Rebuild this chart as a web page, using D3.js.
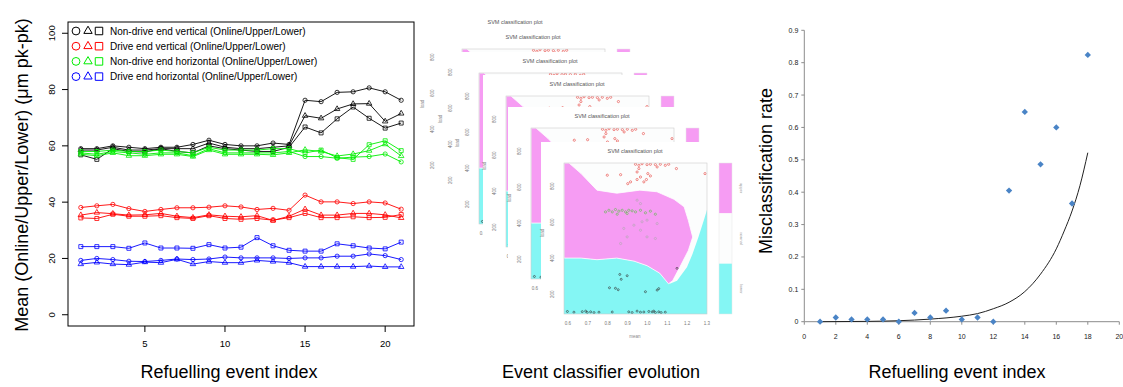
<!DOCTYPE html>
<html>
<head>
<meta charset="utf-8">
<script src="https://cdn.jsdelivr.net/npm/d3@7"></script>
<style>
  body { margin: 0; background: #fff; }
  svg { display: block; font-family: "Liberation Sans", Arial, sans-serif; }
</style>
</head>
<body>
<div id="chart"></div>
<script>
// ---------- left panel: mean vibration per refuelling event ----------
const eventIndex = [1, 2, 3, 4, 5, 6, 7, 8, 9, 10, 11, 12, 13, 14, 15, 16, 17, 18, 19, 20, 21];

const ndeVertOnline = [59, 59, 60, 59.5, 59, 59.5, 59.5, 60.5, 62, 60.5, 60, 60, 61, 60.5, 76.2, 75.7, 79, 79.2, 80.6, 79.2, 76.2];
const ndeVertUpper  = [58.5, 58.5, 59.5, 58.5, 58.5, 59, 59, 59, 61, 59.5, 59, 59, 59.5, 60, 70.7, 69.8, 73.1, 74.9, 75, 68.7, 71.5];
const ndeVertLower  = [56.8, 55.2, 59, 58, 57.8, 59, 58, 57.5, 60, 59, 58.5, 58, 58, 59.5, 66.7, 64.6, 69.6, 73.8, 69.8, 66.3, 68.1];

const deVertOnline = [38.1, 38.7, 39.2, 37.7, 36.7, 37.4, 38, 38, 38.2, 38.7, 38.3, 37.4, 37.8, 37.1, 42.5, 40.1, 40.1, 39.5, 40.1, 39.7, 37.5];
const deVertUpper  = [35.4, 36.3, 35.9, 35.4, 35.5, 36, 35, 34.5, 35.5, 35, 34.8, 35.2, 33.5, 35, 37.5, 35.4, 35.4, 36, 36, 35.5, 34.4];
const deVertLower  = [34.4, 34.2, 35.7, 35, 35, 35.2, 34.5, 34.2, 35.2, 34.2, 33.9, 34.2, 33.6, 34.5, 36, 34.5, 34.5, 34.8, 34.5, 34.6, 35.6];

const ndeHorOnline = [57.5, 57, 58, 57.5, 57, 57.5, 57.5, 56.5, 59, 57.5, 57.5, 57.5, 57.5, 58, 56.2, 56.2, 55.6, 56, 56.2, 57.1, 54.3];
const ndeHorUpper  = [57, 56.5, 57.5, 56.5, 56.5, 57, 57, 56.2, 58.5, 57, 57, 57, 56.8, 57.5, 58.6, 58, 56.4, 57.1, 58.3, 60.6, 56.4];
const ndeHorLower  = [58, 58, 58.5, 58, 58, 58.5, 58, 57.5, 59.5, 58.5, 58.5, 58.5, 59, 59, 57.5, 58.5, 55.8, 55.2, 60.4, 61.8, 58.3];

const deHorOnline = [19.3, 20, 19.6, 19, 18.9, 19.3, 19.8, 19.6, 19.8, 20.5, 20.2, 20.2, 20.2, 20, 20.2, 20.2, 20.8, 20.8, 21.6, 21, 19.6];
const deHorUpper  = [18, 18.6, 18, 17.8, 18.7, 18.5, 19.7, 18, 18.9, 18.5, 18.5, 19.3, 18.9, 18.5, 17.1, 17.1, 17.1, 17.1, 17.3, 17, 17];
const deHorLower  = [24.2, 24.2, 24.2, 23.6, 25.5, 23.7, 23.7, 23.6, 24.9, 23.7, 24, 27.4, 24.5, 22.9, 22.6, 22.6, 25.2, 24.5, 23.7, 23.4, 25.8];

const legendLabels = [
  'Non-drive end vertical (Online/Upper/Lower)',
  'Drive end vertical (Online/Upper/Lower)',
  'Non-drive end horizontal (Online/Upper/Lower)',
  'Drive end horizontal (Online/Upper/Lower)'
];
const groupColors = ['#000000', '#ff0000', '#00ee00', '#0000ff'];
const leftXTicks = [5, 10, 15, 20];
const leftYTicks = [0, 20, 40, 60, 80, 100];

// ---------- middle panel: SVM classification plot ----------
const svmXTicks = [0.6, 0.7, 0.8, 0.9, 1.0, 1.1, 1.2, 1.3];
const svmYTicks = [200, 400, 600, 800];
const svmClasses = ['upper', 'normal', 'lower'];
// boundary between the upper (white) and middle (magenta) class
const upperEdge = [[0.58, 930], [0.605, 930], [0.666, 871], [0.746, 779], [0.846, 762], [0.962, 779], [1.048, 770],
  [1.134, 728], [1.185, 686], [1.206, 611], [1.228, 518], [1.206, 443], [1.163, 350], [1.127, 275], [1.106, 258]];
// boundary between middle (magenta) and lower (cyan) class
const lowerEdge = [[1.106, 258], [1.062, 317], [0.998, 359], [0.933, 384], [0.846, 401], [0.746, 392], [0.666, 401], [0.58, 401]];
// boundary between upper (white) and lower (cyan) on the right
const rightEdge = [[1.3, 930], [1.3, 670], [1.286, 619], [1.257, 518], [1.228, 426], [1.199, 350], [1.149, 275], [1.113, 258]];

const svmUpperPts = [[0.94, 923], [0.957, 917], [0.973, 926], [0.998, 921], [1.015, 923], [1.04, 921], [1.065, 923], [1.09, 917],
  [1.107, 923], [1.146, 899], [1.29, 871], [0.798, 862], [0.865, 865], [0.948, 880], [0.965, 852], [1.002, 871],
  [1.015, 858], [0.995, 838], [0.948, 838], [0.915, 825], [0.901, 815], [0.982, 825], [0.957, 899], [1.049, 908]];
const svmNormalPts = [[0.789, 658], [0.806, 667], [0.823, 658], [0.839, 671], [0.856, 662], [0.873, 667], [0.89, 658],
  [0.906, 667], [0.923, 664], [0.94, 658], [0.965, 667], [0.99, 653], [1.015, 662], [1.04, 645], [0.848, 645], [0.898, 649]];
const svmGreyPts = [[0.948, 723], [0.965, 704], [0.973, 603], [0.998, 612], [0.881, 566], [0.898, 519], [0.865, 482],
  [0.998, 519], [1.04, 510], [1.049, 593], [0.932, 584], [0.965, 556]];
const svmLowerPts = [[1.149, 344], [0.861, 310], [0.898, 303], [0.868, 283], [0.809, 236], [0.839, 233], [0.853, 225],
  [0.99, 214], [1.049, 223], [1.057, 231], [0.597, 104], [0.63, 100], [0.672, 103], [0.689, 106], [0.697, 99],
  [0.714, 102], [0.731, 98], [0.756, 100], [0.823, 101], [0.906, 102], [0.923, 98], [0.948, 106], [0.965, 100],
  [0.982, 101], [1.007, 104], [1.024, 102], [1.032, 106], [1.04, 98], [1.057, 102], [1.069, 98], [1.09, 100]];

// ---------- right panel: misclassification rate ----------
const missEvent = [1, 2, 3, 4, 5, 6, 7, 8, 9, 10, 11, 12, 13, 14, 15, 16, 17, 18];
const missRate = [0, 0.013, 0.007, 0.007, 0.007, 0, 0.027, 0.013, 0.034, 0.007, 0.013, 0, 0.405, 0.648, 0.486, 0.6, 0.365, 0.824];
const trendEvent = [1, 4, 6, 8, 10, 11, 12, 13, 14, 15, 16, 16.5, 17, 17.5, 18];
const trendRate = [0, 0.001, 0.003, 0.008, 0.017, 0.025, 0.04, 0.06, 0.093, 0.147, 0.225, 0.28, 0.342, 0.42, 0.522];
const rightXTicks = [0, 2, 4, 6, 8, 10, 12, 14, 16, 18, 20];
const rightYTicks = [0, 0.1, 0.2, 0.3, 0.4, 0.5, 0.6, 0.7, 0.8, 0.9];

const W = 1123, H = 387;
const svg = d3.select('#chart').append('svg').attr('width', W).attr('height', H);

// ===== left chart =====
function drawLeft() {
  const box = {left: 68, right: 414, top: 22, bottom: 326};
  const x = d3.scaleLinear().domain([0.2, 21.8]).range([box.left, box.right]);
  const y = d3.scaleLinear().domain([-4, 104]).range([box.bottom, box.top]);
  const g = svg.append('g');

  const groups = [
    [ndeVertOnline, ndeVertUpper, ndeVertLower],
    [deVertOnline, deVertUpper, deVertLower],
    [ndeHorOnline, ndeHorUpper, ndeHorLower],
    [deHorOnline, deHorUpper, deHorLower]
  ];
  const shapes = [d3.symbolCircle, d3.symbolTriangle, d3.symbolSquare];
  const sizes = [14, 13, 16];
  const line = d3.line().x((d, i) => x(eventIndex[i])).y(d => y(d));

  groups.forEach((series, gi) => {
    series.forEach((vals, si) => {
      g.append('path').attr('d', line(vals))
        .attr('fill', 'none').attr('stroke', groupColors[gi]).attr('stroke-width', 0.9);
      g.selectAll(null).data(vals).enter().append('path')
        .attr('d', d3.symbol(shapes[si], sizes[si]))
        .attr('transform', (d, i) => `translate(${x(eventIndex[i])},${y(d)})`)
        .attr('fill', 'none').attr('stroke', groupColors[gi]).attr('stroke-width', 0.8);
    });
  });

  g.append('rect').attr('x', box.left).attr('y', box.top)
    .attr('width', box.right - box.left).attr('height', box.bottom - box.top)
    .attr('fill', 'none').attr('stroke', '#000').attr('stroke-width', 1);

  // y axis (R style, rotated labels)
  leftYTicks.forEach(t => {
    g.append('line').attr('x1', box.left - 6).attr('x2', box.left).attr('y1', y(t)).attr('y2', y(t))
      .attr('stroke', '#000');
    g.append('text').attr('transform', `translate(55,${y(t)}) rotate(-90)`)
      .attr('text-anchor', 'middle').attr('font-size', 9.5).text(t);
  });
  leftXTicks.forEach(t => {
    g.append('line').attr('x1', x(t)).attr('x2', x(t)).attr('y1', box.bottom).attr('y2', box.bottom + 6)
      .attr('stroke', '#000');
    g.append('text').attr('x', x(t)).attr('y', 347)
      .attr('text-anchor', 'middle').attr('font-size', 9.5).text(t);
  });

  g.append('text').attr('x', 229).attr('y', 378).attr('text-anchor', 'middle')
    .attr('font-size', 18).text('Refuelling event index');
  g.append('text').attr('transform', 'translate(28,175) rotate(-90)').attr('text-anchor', 'middle')
    .attr('font-size', 18).text('Mean (Online/Upper/Lower) (\u03bcm pk-pk)');

  // legend
  legendLabels.forEach((lab, i) => {
    const ly = 31 + i * 15.2;
    [76, 88, 99].forEach((lx, si) => {
      g.append('path').attr('d', d3.symbol(shapes[si], [48, 30, 56][si]))
        .attr('transform', `translate(${lx},${ly})`)
        .attr('fill', 'none').attr('stroke', groupColors[i]).attr('stroke-width', 1);
    });
    g.append('text').attr('x', 110).attr('y', ly + 3.5).attr('font-size', 10).text(lab);
  });
}

// ===== middle: stacked SVM plots =====
function drawSvmCard(dx, dy) {
  const pl = 564 + dx, pt = 163 + dy, pw = 143, ph = 151;
  const x = d3.scaleLinear().domain([0.58, 1.3]).range([pl, pl + pw]);
  const y = d3.scaleLinear().domain([90, 930]).range([pt + ph, pt]);
  const g = svg.append('g');

  g.append('rect').attr('x', pl - 23).attr('y', pt - 21).attr('width', 210).attr('height', 208)
    .attr('fill', '#fff');

  const clipId = 'clip' + (dx + 200) + '_' + (dy + 200);
  g.append('clipPath').attr('id', clipId).append('rect')
    .attr('x', pl).attr('y', pt).attr('width', pw).attr('height', ph);
  const plot = g.append('g').attr('clip-path', `url(#${clipId})`);
  const poly = d3.line().x(d => x(d[0])).y(d => y(d[1]));

  plot.append('rect').attr('x', pl).attr('y', pt).attr('width', pw).attr('height', ph).attr('fill', '#84f6f4');
  plot.append('path').attr('d', poly(rightEdge.concat(lowerEdge.slice(1), [[0.58, 930]])) + 'Z').attr('fill', '#fcfdfd');
  plot.append('path').attr('d', poly(upperEdge.concat(lowerEdge.slice(1))) + 'Z')
    .attr('fill', '#f69cf3').attr('stroke', '#fff').attr('stroke-width', 0.8);

  const dots = (pts, col, r) => plot.selectAll(null).data(pts).enter().append('circle')
    .attr('cx', d => x(d[0])).attr('cy', d => y(d[1])).attr('r', r)
    .attr('fill', 'none').attr('stroke', col).attr('stroke-width', 0.6);
  dots(svmUpperPts, '#e8413c', 1.1);
  dots(svmNormalPts, '#5cbf4a', 1.1);
  dots(svmGreyPts, '#b0a8b0', 1.1);
  dots(svmLowerPts, '#333', 1.0);

  g.append('rect').attr('x', pl).attr('y', pt).attr('width', pw).attr('height', ph)
    .attr('fill', 'none').attr('stroke', '#ccc').attr('stroke-width', 0.6);

  g.append('text').attr('x', pl + 71).attr('y', pt - 10).attr('text-anchor', 'middle')
    .attr('font-size', 5.5).attr('fill', '#555').text('SVM classification plot');

  svmXTicks.forEach(t => {
    g.append('text').attr('x', x(t)).attr('y', pt + ph + 11).attr('text-anchor', 'middle')
      .attr('font-size', 4.5).attr('fill', '#777').text(t.toFixed(1));
  });
  svmYTicks.forEach(t => {
    g.append('text').attr('transform', `translate(${pl - 10},${y(t)}) rotate(-90)`).attr('text-anchor', 'middle')
      .attr('font-size', 4.5).attr('fill', '#777').text(t);
  });
  g.append('text').attr('x', pl + 71).attr('y', pt + ph + 24).attr('text-anchor', 'middle')
    .attr('font-size', 4.5).attr('fill', '#888').text('mean');
  g.append('text').attr('transform', `translate(${pl - 20},${pt + 70}) rotate(-90)`).attr('text-anchor', 'middle')
    .attr('font-size', 4.5).attr('fill', '#888').text('load');

  // class colour bar
  const cb = d3.scaleBand().domain(svmClasses).range([pt, pt + ph]);
  const cbCol = {upper: '#f69cf3', normal: '#fcfdfd', lower: '#84f6f4'};
  svmClasses.forEach(c => {
    g.append('rect').attr('x', pl + 155).attr('y', cb(c)).attr('width', 13).attr('height', cb.bandwidth())
      .attr('fill', cbCol[c]);
    g.append('text').attr('transform', `translate(${pl + 176},${cb(c) + cb.bandwidth() / 2}) rotate(90)`)
      .attr('text-anchor', 'middle').attr('font-size', 4).attr('fill', '#999').text(c);
  });
  g.append('rect').attr('x', pl + 155).attr('y', pt).attr('width', 13).attr('height', ph)
    .attr('fill', 'none').attr('stroke', '#e6e6e6').attr('stroke-width', 0.5);
}

function drawMiddle() {
  const offsets = [[-120, -129], [-102, -114], [-85, -90], [-58, -67], [-33, -35], [0, 0]];
  offsets.forEach(o => drawSvmCard(o[0], o[1]));
  svg.append('text').attr('x', 601).attr('y', 378).attr('text-anchor', 'middle')
    .attr('font-size', 18).text('Event classifier evolution');
}

// ===== right chart =====
function drawRight() {
  const x = d3.scaleLinear().domain([0, 20]).range([804.3, 1119.3]);
  const y = d3.scaleLinear().domain([0, 0.9]).range([321.7, 30.3]);
  const g = svg.append('g');
  const axisCol = '#8c8c8c';

  g.append('line').attr('x1', x(0)).attr('x2', x(0)).attr('y1', y(0)).attr('y2', y(0.9)).attr('stroke', axisCol);
  g.append('line').attr('x1', x(0)).attr('x2', x(20)).attr('y1', y(0)).attr('y2', y(0)).attr('stroke', axisCol);

  rightYTicks.forEach(t => {
    g.append('line').attr('x1', x(0) - 3).attr('x2', x(0)).attr('y1', y(t)).attr('y2', y(t)).attr('stroke', axisCol);
    g.append('text').attr('x', x(0) - 6).attr('y', y(t) + 2.5).attr('text-anchor', 'end')
      .attr('font-size', 7).attr('fill', '#222').text(t === 0 ? '0' : t.toFixed(1));
  });
  rightXTicks.forEach(t => {
    g.append('line').attr('x1', x(t)).attr('x2', x(t)).attr('y1', y(0)).attr('y2', y(0) + 3).attr('stroke', axisCol);
    g.append('text').attr('x', x(t)).attr('y', 339).attr('text-anchor', 'middle')
      .attr('font-size', 7).attr('fill', '#222').text(t);
  });

  const trend = d3.line().curve(d3.curveMonotoneX)
    .x((d, i) => x(trendEvent[i])).y(d => y(d));
  g.append('path').attr('d', trend(trendRate)).attr('fill', 'none')
    .attr('stroke', '#222').attr('stroke-width', 1);

  g.selectAll(null).data(missRate).enter().append('path')
    .attr('d', d3.symbol(d3.symbolSquare, 20))
    .attr('transform', (d, i) => `translate(${x(missEvent[i])},${y(d)}) rotate(45)`)
    .attr('fill', '#4a84c6');

  g.append('text').attr('x', 957).attr('y', 378).attr('text-anchor', 'middle')
    .attr('font-size', 18).text('Refuelling event index');
  g.append('text').attr('transform', 'translate(772,171) rotate(-90)').attr('text-anchor', 'middle')
    .attr('font-size', 18).text('Misclassification rate');
}

drawMiddle();
drawLeft();
drawRight();
</script>
</body>
</html>
